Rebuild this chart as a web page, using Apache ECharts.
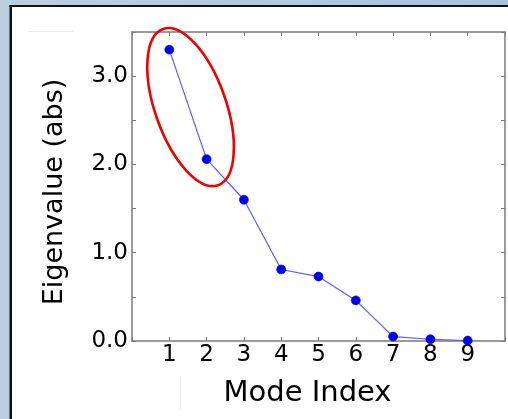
<!DOCTYPE html>
<html>
<head>
<meta charset="utf-8">
<script src="https://cdn.jsdelivr.net/npm/echarts@6/dist/echarts.min.js"></script>
<style>
  html, body { margin: 0; padding: 0; background: #ffffff; }
  #chart { width: 508px; height: 419px; }
</style>
</head>
<body>
<div id="chart"></div>
<script>
// Mode indices and eigenvalue magnitudes
const modes = [1, 2, 3, 4, 5, 6, 7, 8, 9];
const eigenvalues = [3.30, 2.06, 1.60, 0.81, 0.73, 0.46, 0.05, 0.02, 0.005];

// Axis tick labels
const xTickLabels = ['1', '2', '3', '4', '5', '6', '7', '8', '9'];
const yTickLabels = ['0.0', '1.0', '2.0', '3.0'];

// Highlighted group (first two modes): centre in data units
const highlightCenter = [1.57, 2.65];

const FONT = 'DejaVu Sans';
const AXIS_COLOR = '#7a7a7a';

const chart = echarts.init(document.getElementById('chart'), null, { renderer: 'canvas' });

const points = modes.map((m, i) => [m, eigenvalues[i]]);

const tickStyle = { show: true, inside: true, length: 4, lineStyle: { color: AXIS_COLOR, width: 1 } };

chart.setOption({
  backgroundColor: {
    type: 'linear', x: 0, y: 0, x2: 1, y2: 0,
    colorStops: [{ offset: 0, color: '#bccfe1' }, { offset: 1, color: '#a8c1da' }]
  },
  animation: false,
  grid: { left: 132, top: 32, right: 3, bottom: 78, containLabel: false },
  xAxis: [{
    type: 'value', min: 0, max: 10, interval: 1, position: 'bottom',
    axisLine: { show: true, onZero: false, lineStyle: { color: AXIS_COLOR, width: 1.5 } },
    axisTick: tickStyle,
    splitLine: { show: false },
    axisLabel: {
      margin: 3, color: '#000', fontFamily: FONT, fontSize: 23,
      formatter: v => xTickLabels[modes.indexOf(v)] || ''
    },
    name: 'Mode Index', nameLocation: 'middle', nameGap: 38,
    nameTextStyle: { color: '#000', fontFamily: FONT, fontSize: 29, padding: [0, 22, 0, 0] }
  }, {
    type: 'value', min: 0, max: 10, interval: 1, position: 'top',
    axisLine: { show: true, onZero: false, lineStyle: { color: AXIS_COLOR, width: 1.5 } },
    axisTick: tickStyle, axisLabel: { show: false }, splitLine: { show: false }
  }],
  yAxis: [{
    type: 'value', min: 0, max: 3.5, interval: 0.5, position: 'left',
    axisLine: { show: true, onZero: false, lineStyle: { color: AXIS_COLOR, width: 1.5 } },
    axisTick: tickStyle,
    splitLine: { show: false },
    axisLabel: {
      margin: 4, color: '#000', fontFamily: FONT, fontSize: 23,
      formatter: v => Number.isInteger(v) ? (yTickLabels[v] || '') : ''
    },
    name: 'Eigenvalue (abs)', nameLocation: 'middle', nameGap: 64,
    nameTextStyle: { color: '#000', fontFamily: FONT, fontSize: 27, padding: [0, 11, 0, 0] }
  }, {
    type: 'value', min: 0, max: 3.5, interval: 0.5, position: 'right',
    axisLine: { show: true, onZero: false, lineStyle: { color: AXIS_COLOR, width: 1.5 } },
    axisTick: tickStyle, axisLabel: { show: false }, splitLine: { show: false }
  }],
  series: [{
    type: 'line',
    xAxisIndex: 0, yAxisIndex: 0,
    data: points,
    clip: false,
    symbol: 'circle',
    symbolSize: 9,
    lineStyle: { color: '#5b5bff', width: 1.2 },
    itemStyle: { color: '#0000f0', borderColor: '#0000b0', borderWidth: 0.6 },
    z: 5
  }]
});

// Page frame, faint edge marks and the highlight ellipse
const c = chart.convertToPixel({ xAxisIndex: 0, yAxisIndex: 0 }, highlightCenter);
chart.setOption({
  graphic: [
    { type: 'rect', z: -20, silent: true, shape: { x: 11, y: 6, width: 497, height: 413 }, style: { fill: '#ffffff' } },
    { type: 'rect', z: -19, silent: true, shape: { x: 9.5, y: 5, width: 2.5, height: 414 }, style: { fill: '#111111' } },
    { type: 'rect', z: -19, silent: true, shape: { x: 9.5, y: 5, width: 499, height: 2 }, style: { fill: '#111111' } },
    { type: 'line', z: -18, silent: true, shape: { x1: 28, y1: 31.5, x2: 73, y2: 31.5 }, style: { stroke: '#ececec', lineWidth: 1 } },
    { type: 'line', z: -18, silent: true, shape: { x1: 180.5, y1: 376, x2: 180.5, y2: 410 }, style: { stroke: '#f0f0f0', lineWidth: 1 } },
    {
      type: 'ellipse', z: 10, silent: true,
      x: c[0], y: c[1], rotation: 19.35 * Math.PI / 180,
      shape: { cx: 0, cy: 0, rx: 35.5, ry: 82.8 },
      style: { fill: 'none', stroke: '#f00000', lineWidth: 2.6 }
    }
  ]
});
</script>
</body>
</html>
